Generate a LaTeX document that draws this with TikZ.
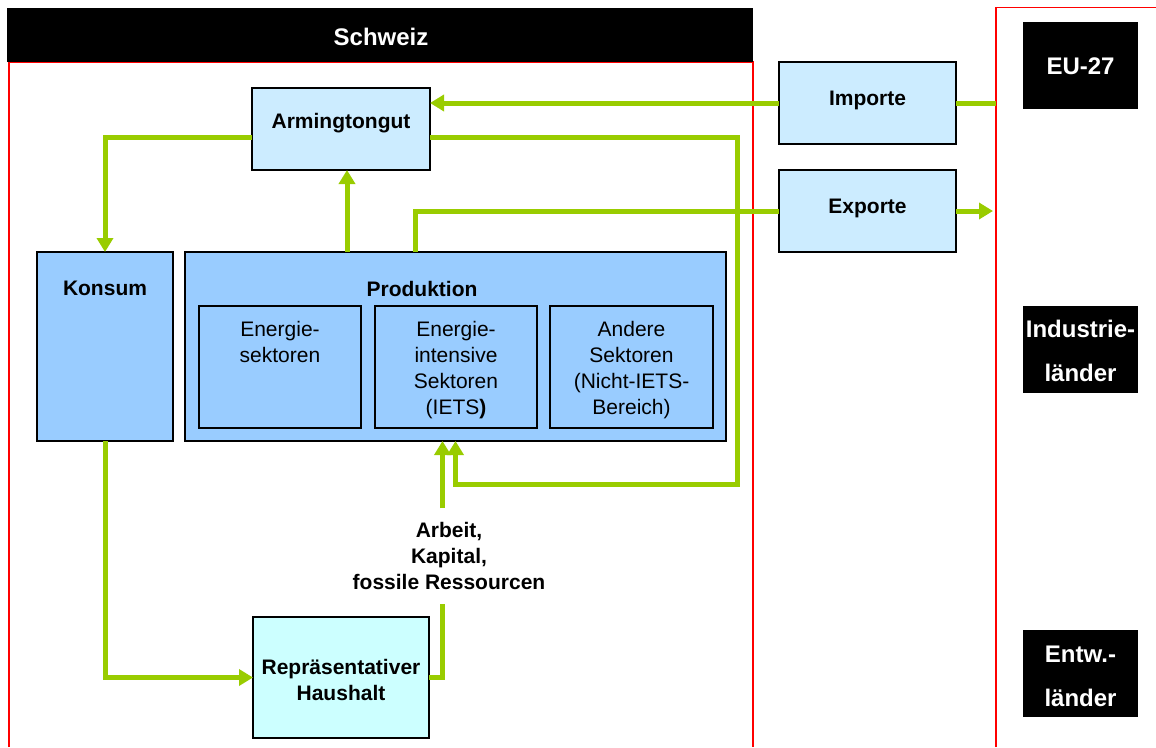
\documentclass[tikz,border=0pt]{standalone}
\usepackage{fontspec}
\setmainfont{Liberation Sans}
\usetikzlibrary{arrows.meta}

\definecolor{flowgreen}{HTML}{99CC00}
\definecolor{paleblue}{HTML}{CCECFF}
\definecolor{midblue}{HTML}{99CCFF}
\definecolor{paleaqua}{HTML}{CCFFFF}
\definecolor{framered}{HTML}{FF0000}

\newcommand\diagfont{\fontsize{21}{26}\selectfont}

\begin{document}
\begin{tikzpicture}[x=1pt,y=-1pt,
  box/.style={draw=black, line width=1.8pt, inner sep=0pt, outer sep=0pt},
  subbox/.style={draw=black, line width=1.6pt, inner sep=0pt, outer sep=0pt, fill=midblue},
  darkbox/.style={fill=black, inner sep=0pt, outer sep=0pt},
  title/.style={font=\diagfont\bfseries, inner sep=0pt, align=center},
  plain/.style={font=\diagfont, inner sep=0pt, align=center, anchor=north},
  headtext/.style={font=\fontsize{24}{44}\selectfont\bfseries, text=white, inner sep=0pt, align=center},
  frameline/.style={draw=framered, line width=1.6pt},
  flowline/.style={draw=flowgreen, line width=5pt},
  flowarrow/.style={flowline, -{Triangle[width=16pt,length=14pt]}}
]
\useasboundingbox (0,0) rectangle (1156,747);

% country frames
\draw[frameline] (9,747) -- (9,62) -- (753,62) -- (753,747);
\draw[frameline] (996,747) -- (996,7.5) -- (1156,7.5);

% region headers
\node[darkbox, minimum width=746pt, minimum height=54pt] (ch) at (380,35) {};
\node[headtext] (chT) at (381,37) {Schweiz};
\node[darkbox, minimum width=115pt, minimum height=87pt] (eu) at (1080.5,65.5) {};
\node[headtext] (euT) at (1080.5,66) {EU-27};
\node[darkbox, minimum width=115pt, minimum height=87pt] (ind) at (1080.5,349.5) {};
\node[headtext] (indT) at (1080.5,351) {Industrie-\\länder};
\node[darkbox, minimum width=115pt, minimum height=87pt] (dev) at (1080.5,673.5) {};
\node[headtext] (devT) at (1080.5,676.5) {Entw.-\\länder};

% trade boxes
\node[box, fill=paleblue, minimum width=177pt, minimum height=82pt] (imp) at (867.5,103) {};
\node[title] (impT) at (867.5,100) {Importe};
\node[box, fill=paleblue, minimum width=177pt, minimum height=82pt] (exp) at (867.5,211) {};
\node[title] (expT) at (867.5,208) {Exporte};

% domestic economy
\node[box, fill=paleblue, minimum width=178pt, minimum height=82pt] (arm) at (341,129) {};
\node[title] (armT) at (341,123) {Armingtongut};

\node[box, fill=midblue, minimum width=136pt, minimum height=189pt] (kon) at (105,346.5) {};
\node[title] (konT) at (105,288) {Konsum};

\node[box, fill=midblue, minimum width=541pt, minimum height=189pt] (prod) at (455.5,346.5) {};
\node[title] (prodT) at (422,289) {Produktion};

\node[subbox, minimum width=162pt, minimum height=122pt] (s1) at (280,367) {};
\node[subbox, minimum width=162pt, minimum height=122pt] (s2) at (456,367) {};
\node[subbox, minimum width=163pt, minimum height=122pt] (s3) at (631.5,367) {};
\node[plain] (s1T) at (280,321) {Energie-\\sektoren};
\node[plain] (s2T) at (456,321) {Energie-\\intensive\\Sektoren\\(IETS\textbf{)}};
\node[plain] (s3T) at (631.5,321) {Andere\\Sektoren\\(Nicht-IETS-\\Bereich)};

\node[box, fill=paleaqua, minimum width=176pt, minimum height=121pt] (hh) at (341,677.5) {};
\node[title] (hhT) at (341,680) {Repräsentativer\\Haushalt};

\node[title, minimum height=95pt] (fac) at (449,556) {Arbeit,\\Kapital,\\fossile Ressourcen};

% connector helper points
\coordinate (euImp) at (996,103);
\coordinate (euExp) at (993,211);
\coordinate (loopR) at (737,484);
\coordinate (prodUp) at ([xshift=-108.5pt]prod.north);
\coordinate (prodEx) at ([xshift=-40.5pt]prod.north);
\coordinate (facIn) at ([xshift=-6.5pt]fac.south);
\coordinate (facOut) at ([xshift=-6.5pt]fac.north);

% goods flows
\draw[flowline] (imp.east) -- (euImp);
\draw[flowarrow] (imp.west) -- (imp.west -| arm.east);
\draw[flowarrow] ([yshift=-8pt]arm.west) -| (kon.north);
\draw[flowarrow] ([yshift=-8pt]arm.east) -| (loopR) -| (prod.south);
\draw[flowarrow] (prodUp) -- (prodUp |- arm.south);
\draw[flowline] (prodEx) |- (exp.west);
\draw[flowarrow] (exp.east) -- (euExp);
\draw[flowarrow] (kon.south) |- (hh.west);

% factor flows
\draw[flowline] (hh.east) -| (facIn);
\draw[flowarrow] (facOut) -- (facOut |- prod.south);
\end{tikzpicture}
\end{document}
